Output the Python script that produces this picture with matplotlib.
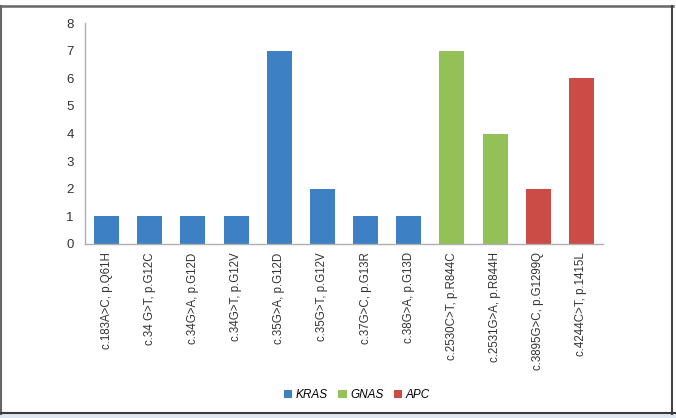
import numpy as np
import matplotlib.pyplot as plt
from matplotlib.patches import Patch, Rectangle
from matplotlib.lines import Line2D

plt.rcParams['font.family'] = ['Liberation Sans', 'DejaVu Sans']

mutations = ['c.183A>C, p.Q61H', 'c.34 G>T, p.G12C', 'c.34G>A, p.G12D', 'c.34G>T, p.G12V',
             'c.35G>A, p.G12D', 'c.35G>T, p.G12V', 'c.37G>C, p.G13R', 'c.38G>A, p.G13D',
             'c.2530C>T, p.R844C', 'c.2531G>A, p.R844H', 'c.3895G>C, p.G1299Q', 'c.4244C>T, p.1415L']
counts = [1, 1, 1, 1, 7, 2, 1, 1, 7, 4, 2, 6]
genes = ['KRAS'] * 8 + ['GNAS'] * 2 + ['APC'] * 2
gene_colors = {'KRAS': '#3d80c3', 'GNAS': '#93c057', 'APC': '#cb4b47'}

fig = plt.figure(figsize=(6.76, 4.18), dpi=100)
ax = fig.add_axes([85 / 676, 174 / 418, 518 / 676, 221 / 418])

x = np.arange(len(mutations))
ax.bar(x, counts, width=0.58, color=[gene_colors[g] for g in genes])
ax.set_xlim(-0.5, len(mutations) - 0.5)
ax.set_ylim(0, 8)
ax.set_yticks(range(0, 9))
ax.set_xticks(x)
ax.set_xticklabels(mutations, rotation=90, fontsize=8.3, color='#333333')
ax.tick_params(axis='y', labelsize=9.5, length=0, pad=8, colors='#333333')
ax.tick_params(axis='x', length=0, pad=6)
for s in ['top', 'right']:
    ax.spines[s].set_visible(False)
for s in ['left', 'bottom']:
    ax.spines[s].set_color('#b0b0b0')
    ax.spines[s].set_linewidth(1.0)

handles = [Patch(facecolor=gene_colors[g], label=g) for g in ['KRAS', 'GNAS', 'APC']]
leg = fig.legend(handles=handles, loc='center', bbox_to_anchor=(357 / 676, 1 - 395 / 418),
                 ncol=3, frameon=False, handlelength=0.7, handleheight=0.7,
                 handletextpad=0.3, columnspacing=0.9, prop={'size': 8.5, 'style': 'italic'})

# frame around the figure
fig.patches.append(Rectangle((0, 0), 1, 4 / 418, transform=fig.transFigure,
                             facecolor='#dfe8f2', edgecolor='none'))
fig.lines.append(Line2D([0, 673 / 676], [1 - 5.5 / 418] * 2, transform=fig.transFigure,
                        color='#666666', lw=1.8))
fig.lines.append(Line2D([0.8 / 676] * 2, [4 / 418, 1 - 5.5 / 418], transform=fig.transFigure,
                        color='#666666', lw=1.5))
fig.lines.append(Line2D([672 / 676] * 2, [4 / 418, 1 - 5.5 / 418], transform=fig.transFigure,
                        color='#444444', lw=1.5))
fig.lines.append(Line2D([0, 1], [5 / 418] * 2, transform=fig.transFigure,
                        color='#3c3c3c', lw=1.5))

fig.savefig('out.png', dpi=100)
